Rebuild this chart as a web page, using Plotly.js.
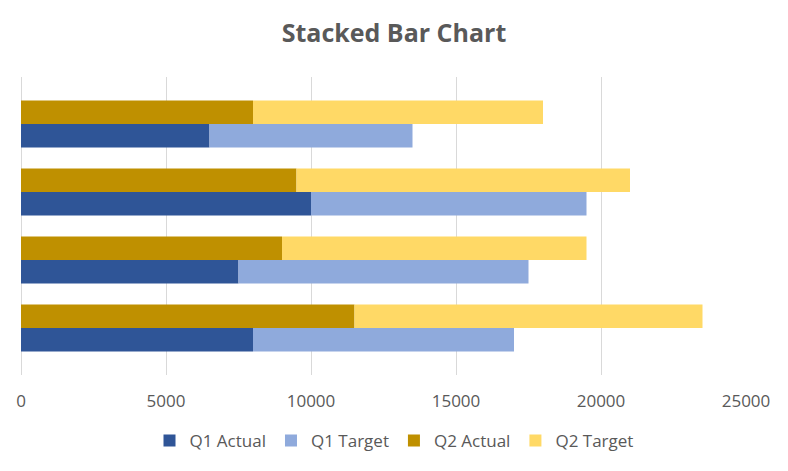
<!DOCTYPE html>
<html>
<head>
<meta charset="utf-8">
<script src="https://cdn.plot.ly/plotly-3.0.1.min.js"></script>
<style>
  html, body { margin: 0; padding: 0; background: #ffffff; }
  #chart { width: 788px; height: 471px; }
</style>
</head>
<body>
<div id="chart"></div>
<script>
// categories bottom to top, as the value axis is drawn
const categories = ["Category 1", "Category 2", "Category 3", "Category 4"];
const q1Actual = [8000, 7500, 10000, 6500];
const q1Target = [9000, 10000, 9500, 7000];
const q2Actual = [11500, 9000, 9500, 8000];
const q2Target = [12000, 10500, 11500, 10000];
const xTicks = [0, 5000, 10000, 15000, 20000, 25000];

const colors = {
  q1Actual: "#2f5597",
  q1Target: "#8faadc",
  q2Actual: "#bf9000",
  q2Target: "#ffd966",
  text: "#595959",
  grid: "#d9d9d9",
};

const font = "Open Sans, Roboto, sans-serif";

function barTrace(name, values, base, group, color) {
  const t = {
    type: "bar",
    orientation: "h",
    name: name,
    y: categories,
    x: values,
    offsetgroup: group,
    marker: { color: color, line: { width: 0 } },
    hovertemplate: name + ": %{x}<extra></extra>",
  };
  if (base) t.base = base;
  return t;
}

const traces = [
  barTrace("Q1 Actual", q1Actual, null, "q1", colors.q1Actual),
  barTrace("Q1 Target", q1Target, q1Actual, "q1", colors.q1Target),
  barTrace("Q2 Actual", q2Actual, null, "q2", colors.q2Actual),
  barTrace("Q2 Target", q2Target, q2Actual, "q2", colors.q2Target),
];

const layout = {
  width: 788,
  height: 471,
  paper_bgcolor: "#ffffff",
  plot_bgcolor: "#ffffff",
  font: { family: font, size: 17, color: colors.text },
  title: {
    text: "Stacked Bar Chart",
    font: { family: font, size: 25, color: colors.text, weight: "bold" },
    x: 0.5,
    xanchor: "center",
    y: 1 - 33 / 471,
    yanchor: "middle",
  },
  barmode: "group",
  bargap: 0.31,
  bargroupgap: 0,
  margin: { l: 21, r: 42, t: 77, b: 96 },
  xaxis: {
    range: [0, 25000],
    tickvals: xTicks,
    ticktext: xTicks.map(String),
    showgrid: true,
    gridcolor: colors.grid,
    gridwidth: 1,
    zeroline: true,
    zerolinecolor: colors.grid,
    zerolinewidth: 1,
    showline: false,
    ticks: "",
    ticklabelstandoff: 14,
    tickfont: { family: font, size: 17, color: colors.text },
    fixedrange: true,
  },
  yaxis: {
    type: "category",
    range: [-0.69, 3.69],
    showticklabels: false,
    showgrid: false,
    zeroline: false,
    showline: false,
    ticks: "",
    fixedrange: true,
  },
  showlegend: true,
  legend: {
    orientation: "h",
    x: 0.5,
    xanchor: "center",
    xref: "container",
    y: 1 - 441 / 471,
    yanchor: "middle",
    yref: "container",
    traceorder: "normal",
    font: { family: font, size: 17, color: colors.text },
    itemwidth: 30,
    bgcolor: "rgba(0,0,0,0)",
  },
};

Plotly.newPlot("chart", traces, layout, { displayModeBar: false, staticPlot: true });
</script>
</body>
</html>
